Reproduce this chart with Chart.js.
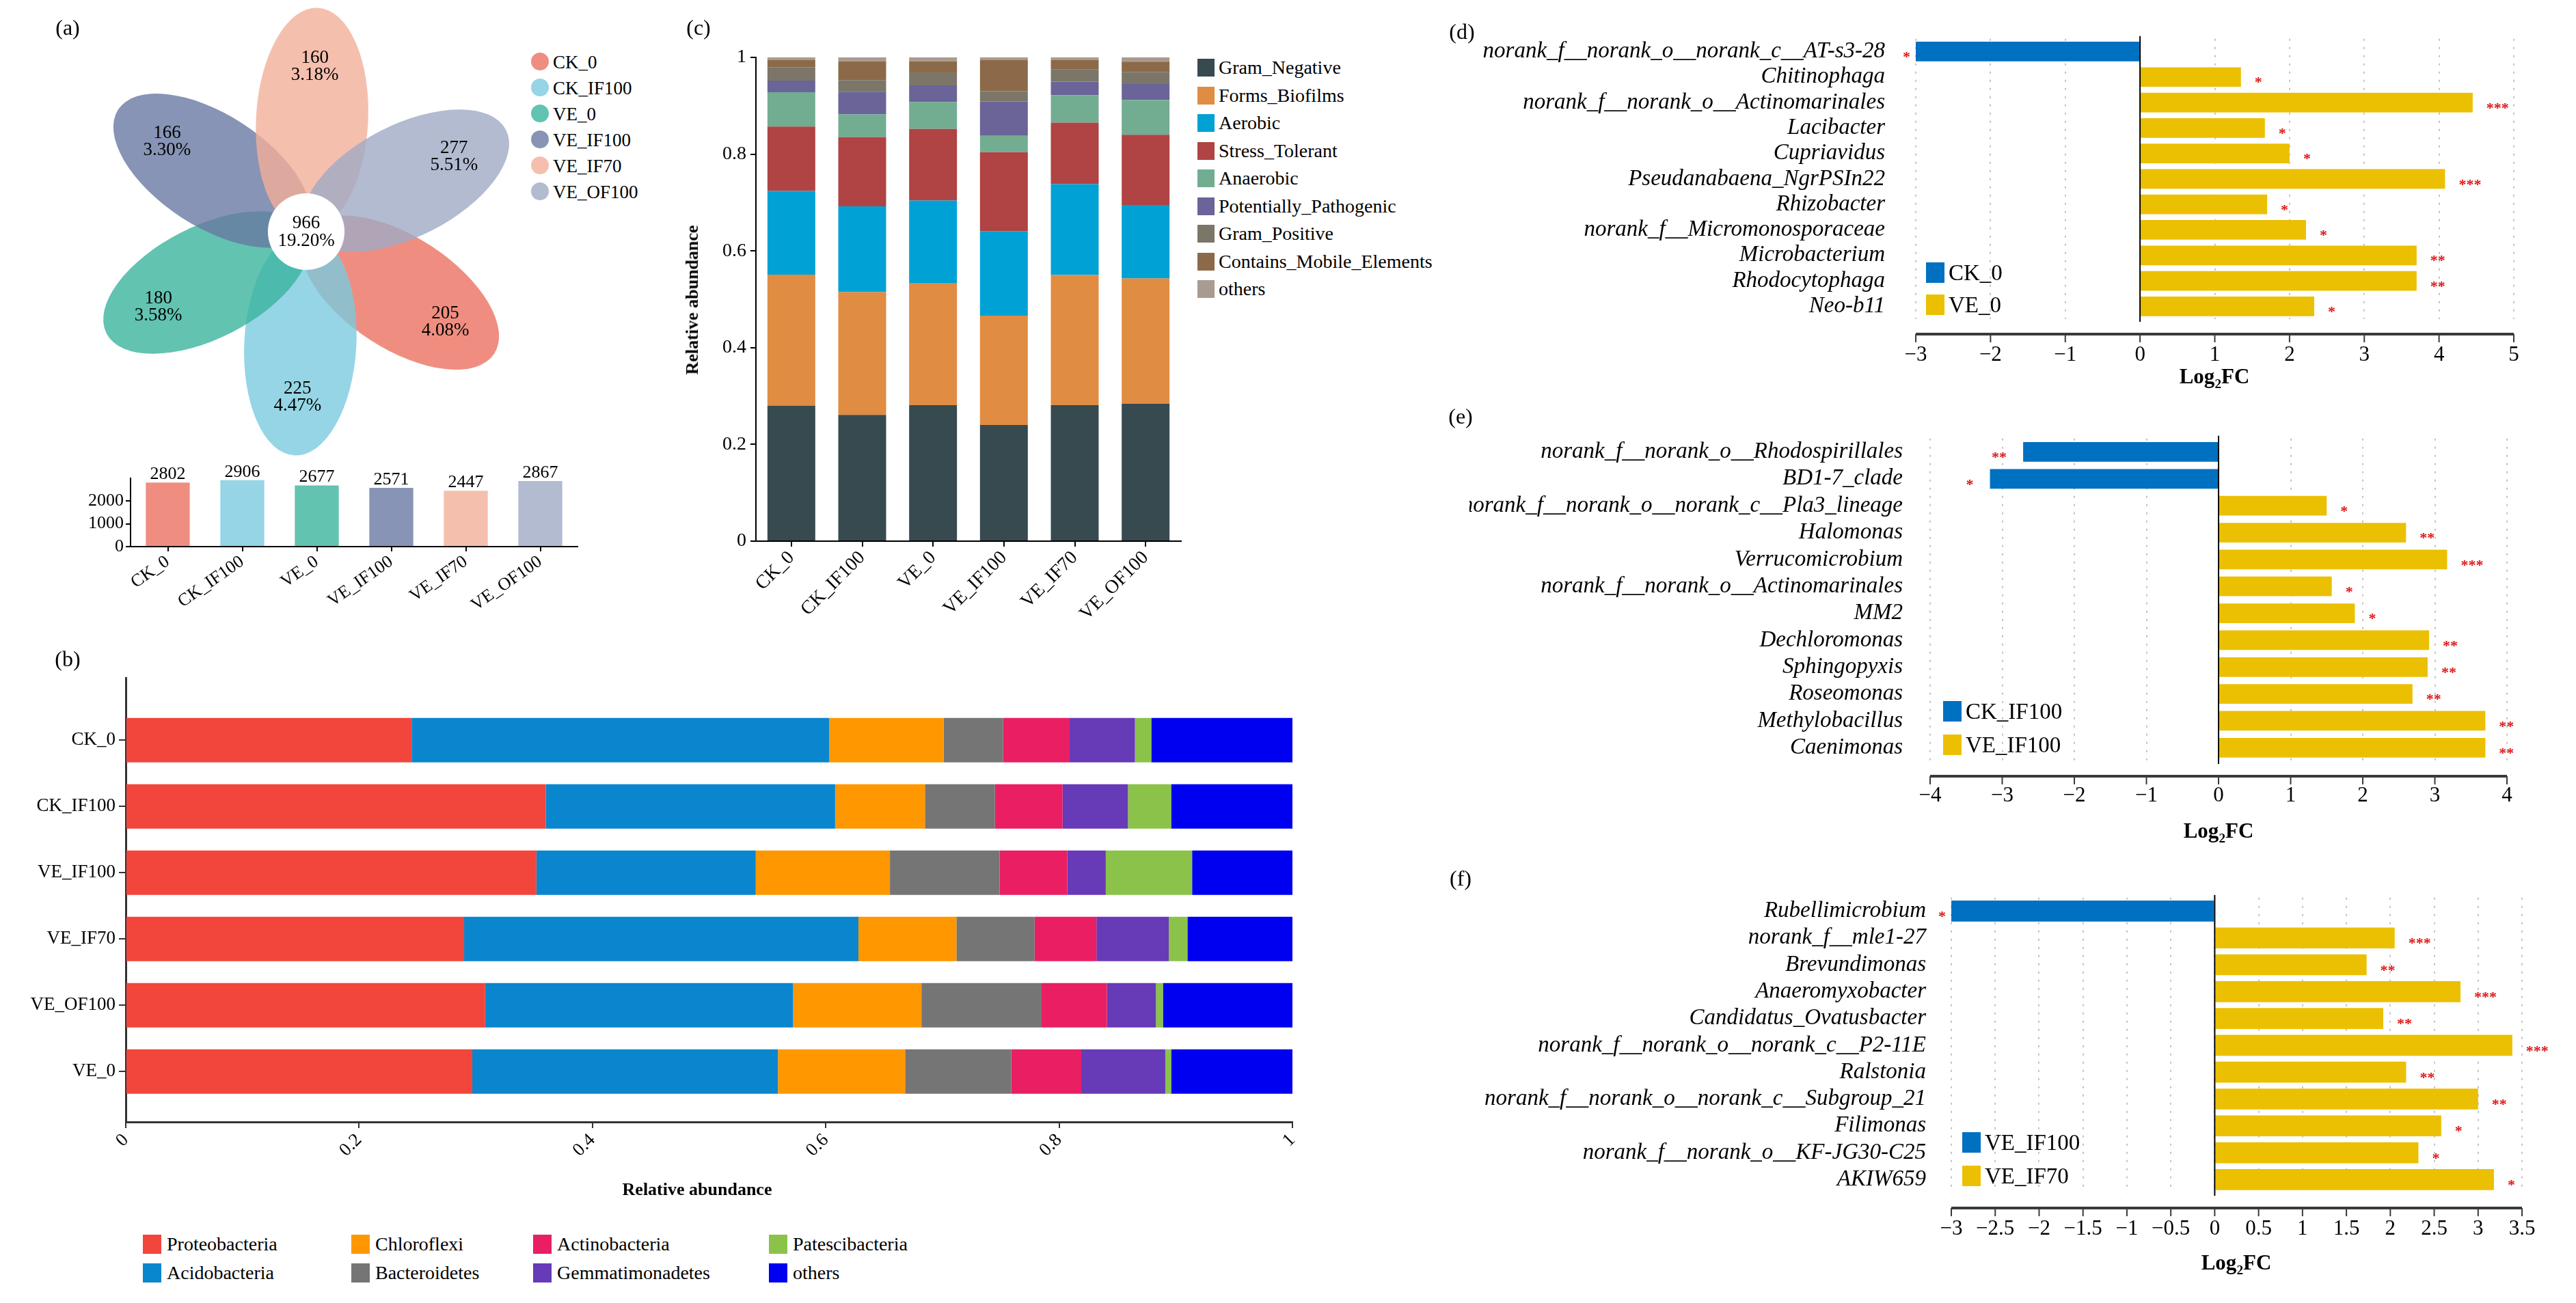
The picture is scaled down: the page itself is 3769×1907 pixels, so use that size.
<!DOCTYPE html>
<html>
<head>
<meta charset="utf-8">
<script src="https://cdn.jsdelivr.net/npm/chart.js@4.4.0/dist/chart.umd.min.js"></script>
<style>
  body { margin: 0; background: #fff; }
  #page { position: relative; width: 3769px; height: 1907px; background: #fff; overflow: hidden;
          font-family: 'Liberation Serif', 'Times New Roman', serif; color: #000; }
  #page canvas { position: absolute; }
  .lbl { position: absolute; white-space: nowrap; line-height: 1; }
  .box { position: absolute; }
</style>
</head>
<body>
<div id="page"></div>
<script>
'use strict';

// (a) flower + OTU totals
const groups = ['CK_0', 'CK_IF100', 'VE_0', 'VE_IF100', 'VE_IF70', 'VE_OF100'];
const groupColors = ['#EF8E80', '#95D5E5', '#62C3B1', '#8794B5', '#F5BFAE', '#B3BBD1'];
const uniqueOtus = [205, 225, 180, 166, 160, 277];
const uniquePct = ['4.08%', '4.47%', '3.58%', '3.30%', '3.18%', '5.51%'];
const coreOtus = 966;
const corePct = '19.20%';
const totalOtus = [2802, 2906, 2677, 2571, 2447, 2867];
const totalTicks = [0, 1000, 2000];

// (b) phyla
const bSamples = ['CK_0', 'CK_IF100', 'VE_IF100', 'VE_IF70', 'VE_OF100', 'VE_0'];
const phyla = ['Proteobacteria', 'Acidobacteria', 'Chloroflexi', 'Bacteroidetes',
               'Actinobacteria', 'Gemmatimonadetes', 'Patescibacteria', 'others'];
const phylaColors = ['#F2453B', '#0A86CE', '#FF9700', '#757575', '#E91E63', '#673AB7', '#8BC34A', '#0000F0'];
const proteobacteria   = [0.245, 0.360, 0.352, 0.290, 0.308, 0.297];
const acidobacteria    = [0.358, 0.248, 0.188, 0.338, 0.264, 0.262];
const chloroflexi      = [0.098, 0.077, 0.115, 0.084, 0.110, 0.109];
const bacteroidetes    = [0.051, 0.060, 0.094, 0.067, 0.103, 0.091];
const actinobacteria   = [0.057, 0.058, 0.058, 0.053, 0.056, 0.060];
const gemmatimonadetes = [0.056, 0.056, 0.033, 0.062, 0.042, 0.072];
const patescibacteria  = [0.014, 0.037, 0.074, 0.016, 0.006, 0.005];
const otherPhyla       = [0.121, 0.104, 0.086, 0.090, 0.111, 0.104];

// (c) phenotypes
const cSamples = ['CK_0', 'CK_IF100', 'VE_0', 'VE_IF100', 'VE_IF70', 'VE_OF100'];
const traits = ['Gram_Negative', 'Forms_Biofilms', 'Aerobic', 'Stress_Tolerant', 'Anaerobic',
                'Potentially_Pathogenic', 'Gram_Positive', 'Contains_Mobile_Elements', 'others'];
const traitColors = ['#364A50', '#E08C42', '#00A1D5', '#B04343', '#72AD92', '#6A6499', '#7B7668', '#8C6A49', '#A99B90'];
const gramNegative   = [0.280, 0.261, 0.281, 0.240, 0.281, 0.284];
const formsBiofilms  = [0.271, 0.254, 0.252, 0.226, 0.269, 0.259];
const aerobic        = [0.173, 0.177, 0.171, 0.175, 0.188, 0.152];
const stressTolerant = [0.133, 0.143, 0.148, 0.163, 0.127, 0.145];
const anaerobic      = [0.071, 0.047, 0.056, 0.034, 0.057, 0.072];
const pathogenic     = [0.024, 0.047, 0.034, 0.071, 0.028, 0.033];
const gramPositive   = [0.028, 0.024, 0.027, 0.021, 0.025, 0.025];
const mobileElements = [0.015, 0.039, 0.023, 0.065, 0.020, 0.021];
const otherTraits    = [0.005, 0.008, 0.008, 0.005, 0.005, 0.009];

// (d) CK_0 vs VE_0
const dTaxa = ['norank_f__norank_o__norank_c__AT-s3-28', 'Chitinophaga', 'norank_f__norank_o__Actinomarinales',
  'Lacibacter', 'Cupriavidus', 'Pseudanabaena_NgrPSIn22', 'Rhizobacter', 'norank_f__Micromonosporaceae',
  'Microbacterium', 'Rhodocytophaga', 'Neo-b11'];
const dLfc = [-3.0, 1.35, 4.45, 1.67, 2.0, 4.08, 1.70, 2.22, 3.70, 3.70, 2.33];
const dSig = ['*', '*', '***', '*', '*', '***', '*', '*', '**', '**', '*'];
const dGroups = ['CK_0', 'VE_0'];

// (e) CK_IF100 vs VE_IF100
const eTaxa = ['norank_f__norank_o__Rhodospirillales', 'BD1-7_clade', 'norank_f__norank_o__norank_c__Pla3_lineage',
  'Halomonas', 'Verrucomicrobium', 'norank_f__norank_o__Actinomarinales', 'MM2', 'Dechloromonas',
  'Sphingopyxis', 'Roseomonas', 'Methylobacillus', 'Caenimonas'];
const eLfc = [-2.71, -3.17, 1.50, 2.60, 3.17, 1.57, 1.89, 2.92, 2.90, 2.69, 3.70, 3.70];
const eSig = ['**', '*', '*', '**', '***', '*', '*', '**', '**', '**', '**', '**'];
const eGroups = ['CK_IF100', 'VE_IF100'];

// (f) VE_IF100 vs VE_IF70
const fTaxa = ['Rubellimicrobium', 'norank_f__mle1-27', 'Brevundimonas', 'Anaeromyxobacter',
  'Candidatus_Ovatusbacter', 'norank_f__norank_o__norank_c__P2-11E', 'Ralstonia',
  'norank_f__norank_o__norank_c__Subgroup_21', 'Filimonas', 'norank_f__norank_o__KF-JG30-C25', 'AKIW659'];
const fLfc = [-3.0, 2.05, 1.73, 2.80, 1.92, 3.39, 2.18, 3.0, 2.58, 2.32, 3.18];
const fSig = ['*', '***', '**', '***', '**', '***', '**', '**', '*', '*', '*'];
const fGroups = ['VE_IF100', 'VE_IF70'];

const lfcBlue = '#0070C0';
const lfcGold = '#EBC003';
const serif = "'Liberation Serif', 'Times New Roman', serif";

Chart.defaults.font.family = serif;
Chart.defaults.color = '#000';
Chart.defaults.animation = false;
Chart.defaults.plugins.legend.display = false;
Chart.defaults.plugins.tooltip.enabled = false;

const page = document.getElementById('page');
const plainNum = v => String(+Number(v).toFixed(2));

function place(x, y, w, h) {
  const c = document.createElement('canvas');
  c.width = w; c.height = h;
  Object.assign(c.style, { left: x + 'px', top: y + 'px', width: w + 'px', height: h + 'px' });
  page.appendChild(c);
  return c;
}

function addText(html, x, y, size, opt) {
  opt = opt || {};
  const d = document.createElement('div');
  d.className = 'lbl';
  d.innerHTML = html;
  d.style.fontSize = size + 'px';
  if (opt.bold) d.style.fontWeight = 'bold';
  if (opt.italic) d.style.fontStyle = 'italic';
  const ax = opt.align === 'left' ? '0' : opt.align === 'right' ? '-100%' : '-50%';
  d.style.left = x + 'px';
  d.style.top = y + 'px';
  d.style.transform = 'translate(' + ax + ',-50%)' + (opt.rotate ? ' rotate(' + opt.rotate + 'deg)' : '');
  page.appendChild(d);
}

function addBox(x, y, w, h, color, round) {
  const d = document.createElement('div');
  d.className = 'box';
  Object.assign(d.style, { left: x + 'px', top: y + 'px', width: w + 'px', height: h + 'px', background: color });
  if (round) d.style.borderRadius = '50%';
  page.appendChild(d);
}

// colour that gives `hex` once painted at alpha a over white
function underAlpha(hex, a) {
  const n = parseInt(hex.slice(1), 16);
  const ch = [n >> 16, (n >> 8) & 255, n & 255].map(c => Math.max(0, Math.min(255, Math.round((c - 255 * (1 - a)) / a))));
  return 'rgb(' + ch.join(',') + ')';
}

// ---------- (a) flower ----------
const PETAL = 328;                       // px per unit (one petal length)
const petalAngle = i => (-33 - 60 * i) * Math.PI / 180;

const flowerPlugin = {
  id: 'flower',
  beforeDatasetsDraw(chart) {
    const { ctx, scales: { x, y } } = chart;
    const unit = x.getPixelForValue(1) - x.getPixelForValue(0);
    ctx.save();
    groups.forEach((g, i) => {
      const a = petalAngle(i);
      ctx.globalAlpha = 0.8;
      ctx.fillStyle = underAlpha(groupColors[i], 0.8);
      ctx.beginPath();
      ctx.ellipse(x.getPixelForValue(0.5 * Math.cos(a)), y.getPixelForValue(0.5 * Math.sin(a)),
                  0.5 * unit, 0.25 * unit, -a, 0, Math.PI * 2);
      ctx.fill();
    });
    ctx.globalAlpha = 1;
    ctx.fillStyle = '#fff';
    ctx.beginPath();
    ctx.arc(x.getPixelForValue(0), y.getPixelForValue(0), 0.171 * unit, 0, Math.PI * 2);
    ctx.fill();
    ctx.restore();
  },
  afterDatasetsDraw(chart) {
    const { ctx, scales: { x, y } } = chart;
    const pts = chart.getDatasetMeta(0).data;
    ctx.save();
    ctx.fillStyle = '#000';
    ctx.font = '27px ' + serif;
    ctx.textAlign = 'center';
    ctx.textBaseline = 'middle';
    pts.forEach((p, i) => {
      ctx.fillText(uniqueOtus[i], p.x, p.y - 12);
      ctx.fillText(uniquePct[i], p.x, p.y + 13);
    });
    ctx.fillText(coreOtus, x.getPixelForValue(0), y.getPixelForValue(0) - 12);
    ctx.fillText(corePct, x.getPixelForValue(0), y.getPixelForValue(0) + 14);
    ctx.restore();
  }
};

new Chart(place(0, 0, 760, 690), {
  type: 'scatter',
  data: {
    datasets: [{
      data: uniqueOtus.map((v, i) => ({ x: 0.74 * Math.cos(petalAngle(i)), y: 0.74 * Math.sin(petalAngle(i)) })),
      pointRadius: 0
    }]
  },
  options: {
    responsive: false, devicePixelRatio: 1,
    layout: { padding: 0 },
    scales: {
      x: { display: false, min: -448 / PETAL, max: (760 - 448) / PETAL },
      y: { display: false, min: -(690 - 339) / PETAL, max: 339 / PETAL }
    }
  },
  plugins: [flowerPlugin]
});

groups.forEach((g, i) => {
  addBox(777, 77 + 38 * i, 26, 26, groupColors[i], true);
  addText(g, 809, 91 + 38 * i, 27, { align: 'left' });
});

const barTops = {
  id: 'barTops',
  afterDatasetsDraw(chart) {
    const { ctx } = chart;
    ctx.save();
    ctx.font = '26px ' + serif;
    ctx.fillStyle = '#000';
    ctx.textAlign = 'center';
    ctx.textBaseline = 'bottom';
    chart.getDatasetMeta(0).data.forEach((el, i) => ctx.fillText(totalOtus[i], el.x, el.y + 1));
    ctx.restore();
  }
};

new Chart(place(100, 650, 780, 260), {
  type: 'bar',
  data: {
    labels: groups,
    datasets: [{ data: totalOtus, backgroundColor: groupColors, categoryPercentage: 1, barPercentage: 0.59 }]
  },
  options: {
    responsive: false, devicePixelRatio: 1,
    layout: { padding: { left: 0, top: 50, right: 35, bottom: 0 } },
    scales: {
      x: {
        afterFit: s => { s.height = 110; },
        grid: { drawOnChartArea: false, offset: false, tickLength: 7, color: '#000', lineWidth: 2 },
        border: { color: '#000', width: 2 },
        ticks: { font: { size: 26 }, maxRotation: 35, minRotation: 35, padding: 0, autoSkip: false }
      },
      y: {
        min: 0, max: 2990,
        afterFit: s => { s.width = 91; },
        afterBuildTicks: s => { s.ticks = totalTicks.map(v => ({ value: v })); },
        grid: { drawOnChartArea: false, tickLength: 7, color: '#000', lineWidth: 2 },
        border: { color: '#000', width: 2 },
        ticks: { font: { size: 26 }, padding: 3, callback: v => String(v) }
      }
    }
  },
  plugins: [barTops]
});

// ---------- (b) phyla, horizontal stacked ----------
const phylaSeries = [proteobacteria, acidobacteria, chloroflexi, bacteroidetes,
                     actinobacteria, gemmatimonadetes, patescibacteria, otherPhyla];

new Chart(place(0, 960, 1935, 840), {
  type: 'bar',
  data: {
    datasets: phyla.map((p, k) => ({
      label: p,
      data: phylaSeries[k].map((v, i) => ({ x: v, y: i })),
      backgroundColor: phylaColors[k],
      categoryPercentage: 1, barPercentage: 0.67
    }))
  },
  options: {
    responsive: false, devicePixelRatio: 1, indexAxis: 'y',
    layout: { padding: { left: 0, top: 32, right: 44, bottom: 0 } },
    scales: {
      x: {
        type: 'linear', stacked: true, min: 0, max: 1,
        afterFit: s => { s.height = 158; },
        grid: { drawOnChartArea: false, tickLength: 9, color: '#333', lineWidth: 2 },
        border: { color: '#333', width: 3 },
        ticks: { stepSize: 0.2, font: { size: 27 }, maxRotation: 45, minRotation: 45, padding: 2, callback: plainNum }
      },
      y: {
        type: 'linear', stacked: true, reverse: true, offset: false, min: -0.94, max: 5.76,
        afterFit: s => { s.width = 184; },
        afterBuildTicks: s => { s.ticks = bSamples.map((n, i) => ({ value: i })); },
        grid: { drawOnChartArea: false, offset: false, tickLength: 10, color: '#333', lineWidth: 2 },
        border: { color: '#333', width: 3 },
        ticks: { autoSkip: false, font: { size: 27 }, padding: 5,
                 callback: v => bSamples[v] !== undefined ? bSamples[v] : '' }
      }
    }
  }
});

addText('Relative abundance', 1020, 1741, 26, { bold: true });
const bLegendX = [209, 514, 780, 1125];
phyla.forEach((p, k) => {
  const col = Math.floor(k / 2), row = k % 2;
  const cy = 1821 + 42 * row;
  addBox(bLegendX[col], cy - 14, 27, 28, phylaColors[k]);
  addText(p, bLegendX[col] + 35, cy, 28, { align: 'left' });
});

// ---------- (c) phenotypes, vertical stacked ----------
const traitSeries = [gramNegative, formsBiofilms, aerobic, stressTolerant, anaerobic,
                     pathogenic, gramPositive, mobileElements, otherTraits];

new Chart(place(1000, 50, 745, 860), {
  type: 'bar',
  data: {
    labels: cSamples,
    datasets: traits.map((t, k) => ({
      label: t, data: traitSeries[k], backgroundColor: traitColors[k],
      categoryPercentage: 1, barPercentage: 0.675
    }))
  },
  options: {
    responsive: false, devicePixelRatio: 1,
    layout: { padding: { left: 0, top: 34, right: 17, bottom: 0 } },
    scales: {
      x: {
        stacked: true,
        afterFit: s => { s.height = 118; },
        grid: { drawOnChartArea: false, offset: false, tickLength: 8, color: '#000', lineWidth: 2 },
        border: { color: '#000', width: 2 },
        ticks: { font: { size: 28 }, maxRotation: 45, minRotation: 45, padding: 0, autoSkip: false }
      },
      y: {
        stacked: true, min: 0, max: 1,
        afterFit: s => { s.width = 106; },
        grid: { drawOnChartArea: false, tickLength: 8, color: '#000', lineWidth: 2 },
        border: { color: '#000', width: 2 },
        ticks: { stepSize: 0.2, font: { size: 28 }, padding: 6, callback: plainNum }
      }
    }
  }
});

addText('Relative abundance', 1013, 439, 26, { bold: true, rotate: -90 });
traits.forEach((t, k) => {
  const cy = 99 + 40.5 * k;
  addBox(1752, cy - 13, 25, 26, traitColors[k]);
  addText(t, 1783, cy, 28, { align: 'left' });
});

// ---------- (d)(e)(f) log2 fold change ----------
const lfcAxis = {
  id: 'lfcAxis',
  afterDatasetsDraw(chart, args, opts) {
    const { ctx, chartArea: a, scales: { x } } = chart;
    const bars = chart.getDatasetMeta(0).data;
    ctx.save();
    const x0 = x.getPixelForValue(0);
    ctx.strokeStyle = '#000';
    ctx.lineWidth = 2;
    ctx.beginPath(); ctx.moveTo(x0, a.top - 4); ctx.lineTo(x0, a.bottom + 4); ctx.stroke();

    ctx.fillStyle = '#E01515';
    ctx.font = 'bold 22px ' + serif;
    ctx.textBaseline = 'middle';
    bars.forEach((bar, i) => {
      const neg = bar.x < bar.base;
      ctx.textAlign = neg ? 'right' : 'left';
      ctx.fillText(opts.sig[i], bar.x + (neg ? -opts.negGap : 20), bar.y + 9);
    });

    const yAxis = a.bottom + opts.gap;
    ctx.strokeStyle = '#3a3a3a';
    ctx.lineWidth = 4;
    ctx.beginPath(); ctx.moveTo(x.left, yAxis); ctx.lineTo(x.right, yAxis); ctx.stroke();
    ctx.lineWidth = 2;
    x.ticks.forEach(t => {
      const px = x.getPixelForValue(t.value);
      ctx.beginPath(); ctx.moveTo(px, yAxis); ctx.lineTo(px, yAxis + 12); ctx.stroke();
    });
    ctx.restore();
  }
};

function lfcChart(canvas, taxa, lfc, sig, sizes) {
  return new Chart(canvas, {
    type: 'bar',
    data: {
      labels: taxa,
      datasets: [{
        data: lfc,
        backgroundColor: c => c.raw < 0 ? lfcBlue : lfcGold,
        categoryPercentage: 1, barPercentage: sizes.bar
      }]
    },
    options: {
      responsive: false, devicePixelRatio: 1, indexAxis: 'y',
      layout: { padding: { left: 0, top: sizes.top, right: sizes.right, bottom: 0 } },
      scales: {
        x: {
          min: sizes.min, max: sizes.max,
          afterFit: s => { s.height = sizes.xh; },
          grid: { color: '#C4C4C4', lineWidth: 2, drawTicks: false },
          border: { display: false, dash: [3, 9] },
          ticks: { stepSize: sizes.step, autoSkip: false, font: { size: 31 }, padding: sizes.tickPad,
                   callback: v => plainNum(v).replace('-', '\u2212') }
        },
        y: {
          afterFit: s => { s.width = sizes.yw; },
          grid: { display: false },
          border: { display: false },
          ticks: { autoSkip: false, font: { size: 33, style: 'italic' }, padding: sizes.labelPad }
        }
      },
      plugins: { lfcAxis: { sig: sig, gap: 22, negGap: sizes.negGap } }
    },
    plugins: [lfcAxis]
  });
}

function lfcLegend(pair, x, y0, step, size) {
  [lfcBlue, lfcGold].forEach((col, k) => {
    const cy = y0 + step * k;
    addBox(x, cy - 15, 27, 30, col);
    addText(pair[k], x + 33, cy, size, { align: 'left' });
  });
}

// (d): plot 2803..3678 x 26..467
lfcChart(place(2150, 0, 1619, 560), dTaxa, dLfc, dSig,
  { top: 26, right: 91, yw: 653, xh: 93, min: -3, max: 5, step: 1, bar: 0.77, tickPad: 34, labelPad: 37, negGap: 8 });
lfcLegend(dGroups, 2818, 399, 47, 33);
addText('Log<sub style="font-size:62%">2</sub>FC', 3240, 553, 31, { bold: true });

// (e): plot 2824..3668 x 619..1114
lfcChart(place(2150, 590, 1619, 650), eTaxa, eLfc, eSig,
  { top: 29, right: 101, yw: 674, xh: 126, min: -4, max: 4, step: 1, bar: 0.73, tickPad: 32, labelPad: 32, negGap: 24 });
lfcLegend(eGroups, 2843, 1041, 49, 33);
addText('Log<sub style="font-size:62%">2</sub>FC', 3246, 1218, 31, { bold: true });

// (f): plot 2855..3690 x 1293..1746
lfcChart(place(2150, 1265, 1619, 615), fTaxa, fLfc, fSig,
  { top: 28, right: 79, yw: 705, xh: 134, min: -3, max: 3.5, step: 0.5, bar: 0.78, tickPad: 34, labelPad: 29, negGap: 8 });
lfcLegend(fGroups, 2871, 1672, 49, 33);
addText('Log<sub style="font-size:62%">2</sub>FC', 3272, 1850, 31, { bold: true });

// panel letters
addText('(a)', 99, 40, 32);
addText('(b)', 99, 964, 32);
addText('(c)', 1022, 40, 32);
addText('(d)', 2139, 46, 32);
addText('(e)', 2137, 609, 32);
addText('(f)', 2137, 1285, 32);
</script>
</body>
</html>
